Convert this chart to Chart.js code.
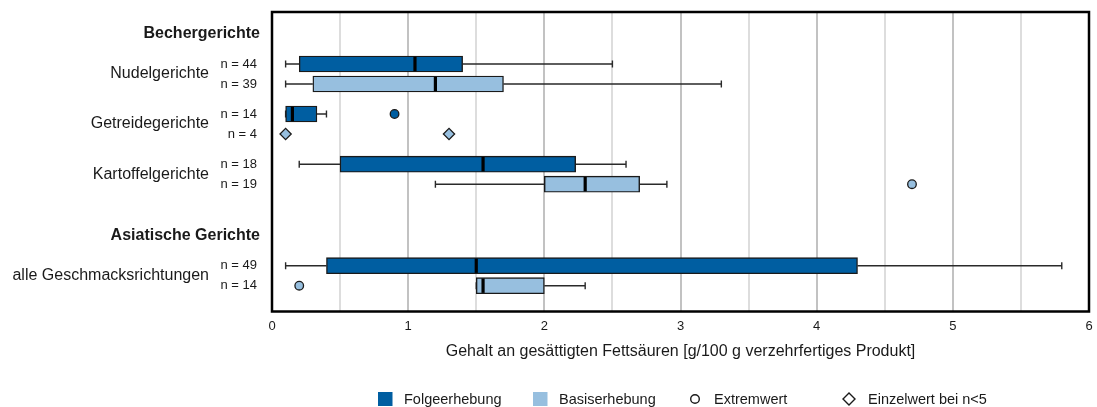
<!DOCTYPE html>
<html>
<head>
<meta charset="utf-8">
<script src="https://cdn.jsdelivr.net/npm/chart.js@4.4.1/dist/chart.umd.min.js"></script>
<style>
  html, body { margin: 0; padding: 0; background: #ffffff; }
  #wrap { width: 1097px; height: 407px; }
</style>
</head>
<body>
<div id="wrap"><canvas id="chart" width="1097" height="407"></canvas></div>
<script>
// ---- Daten ----
const groupTitles = ['Bechergerichte', 'Asiatische Gerichte'];
const products = ['Nudelgerichte', 'Getreidegerichte', 'Kartoffelgerichte', 'alle Geschmacksrichtungen'];
const nFolge = [44, 14, 18, 49];
const nBasis = [39, 4, 19, 14];

// Folgeerhebung: Minimum, unteres Quartil, Median, oberes Quartil, Maximum (g/100 g)
const folgeMin    = [0.1, 0.1,  0.2,  0.1];
const folgeQ1     = [0.2, 0.1,  0.5,  0.4];
const folgeMedian = [1.05, 0.15, 1.55, 1.5];
const folgeQ3     = [1.4, 0.33, 2.23, 4.3];
const folgeMax    = [2.5, 0.4,  2.6,  5.8];
const folgeExtreme = [[], [0.9], [], []];

// Basiserhebung (bei n<5 nur Einzelwerte)
const basisMin    = [0.1, null, 1.2, 1.5];
const basisQ1     = [0.3, null, 2.0, 1.5];
const basisMedian = [1.2, null, 2.3, 1.55];
const basisQ3     = [1.7, null, 2.7, 2.0];
const basisMax    = [3.3, null, 2.9, 2.3];
const basisExtreme = [[], [], [4.7], [0.2]];
const basisSingle  = [[], [0.1, 1.3], [], []];

const xTickLabels = ['0', '1', '2', '3', '4', '5', '6'];
const axisTitle = 'Gehalt an gesättigten Fettsäuren [g/100 g verzehrfertiges Produkt]';
const legendLabels = ['Folgeerhebung', 'Basiserhebung', 'Extremwert', 'Einzelwert bei n<5'];

// ---- Layout (Einheiten der y-Achse, 1 Einheit = 10 px) ----
const productCenter = [6.2, 11.2, 16.22, 26.37];
const groupTitlePos = [2.13, 22.4];
const pairOffset = 1.0;
const yMax = 29.95;

const colFolge = '#005ea1';
const colBasis = '#97bfdf';
const colLine = '#1a1a1a';
const colText = '#1a1a1a';
const fontFamily = '"Liberation Sans", Arial, sans-serif';

const series = [
  { label: legendLabels[0], color: colFolge, offset: -pairOffset,
    min: folgeMin, q1: folgeQ1, med: folgeMedian, q3: folgeQ3, max: folgeMax },
  { label: legendLabels[1], color: colBasis, offset: pairOffset,
    min: basisMin, q1: basisQ1, med: basisMedian, q3: basisQ3, max: basisMax }
];

function boxData(s) {
  const out = [];
  products.forEach((p, i) => {
    if (s.q1[i] != null) out.push({ y: productCenter[i] + s.offset, x: [s.q1[i], s.q3[i]] });
  });
  return out;
}
function pointData(values, offset) {
  const out = [];
  values.forEach((list, i) => list.forEach(v => out.push({ x: v, y: productCenter[i] + offset })));
  return out;
}

// Stichprobengrößen je Zeile
const nTicks = [];
products.forEach((p, i) => {
  nTicks.push({ value: productCenter[i] - pairOffset, text: 'n = ' + nFolge[i] });
  nTicks.push({ value: productCenter[i] + pairOffset, text: 'n = ' + nBasis[i] });
});

// Whisker, Mediane, Rahmen, Gruppentitel und Legende
const boxPlotPlugin = {
  id: 'boxPlotParts',
  beforeDatasetsDraw(chart) {
    const { ctx, scales: { x, y } } = chart;
    ctx.save();
    ctx.strokeStyle = '#2a2a2a';
    ctx.lineWidth = 1.4;
    series.forEach(s => {
      products.forEach((p, i) => {
        if (s.min[i] == null) return;
        const py = y.getPixelForValue(productCenter[i] + s.offset);
        const xMin = x.getPixelForValue(s.min[i]);
        const xQ1 = x.getPixelForValue(s.q1[i]);
        const xQ3 = x.getPixelForValue(s.q3[i]);
        const xMax = x.getPixelForValue(s.max[i]);
        ctx.beginPath();
        ctx.moveTo(xMin, py); ctx.lineTo(xQ1, py);
        ctx.moveTo(xQ3, py); ctx.lineTo(xMax, py);
        ctx.moveTo(xMin, py - 3.5); ctx.lineTo(xMin, py + 3.5);
        ctx.moveTo(xMax, py - 3.5); ctx.lineTo(xMax, py + 3.5);
        ctx.stroke();
      });
    });
    ctx.restore();
  },
  afterDatasetsDraw(chart) {
    const { ctx, chartArea, scales: { x, y } } = chart;
    ctx.save();
    ctx.strokeStyle = '#000000';
    ctx.lineWidth = 3.2;
    series.forEach(s => {
      products.forEach((p, i) => {
        if (s.med[i] == null) return;
        const py = y.getPixelForValue(productCenter[i] + s.offset);
        const px = x.getPixelForValue(s.med[i]);
        ctx.beginPath();
        ctx.moveTo(px, py - 7.2); ctx.lineTo(px, py + 7.2);
        ctx.stroke();
      });
    });
    ctx.lineWidth = 2.5;
    ctx.strokeRect(chartArea.left, chartArea.top, chartArea.right - chartArea.left, chartArea.bottom - chartArea.top);
    ctx.restore();
  },
  afterDraw(chart) {
    const { ctx, chartArea, scales: { y } } = chart;
    ctx.save();
    ctx.fillStyle = colText;
    ctx.textBaseline = 'middle';

    // Gruppentitel
    ctx.font = 'bold 16px ' + fontFamily;
    ctx.textAlign = 'right';
    groupTitles.forEach((t, g) => ctx.fillText(t, chartArea.left - 12, y.getPixelForValue(groupTitlePos[g])));

    // Legende
    const cy = 399;
    const items = [
      { sx: 385, tx: 404, kind: 'square', fill: colFolge },
      { sx: 540, tx: 559, kind: 'square', fill: colBasis },
      { sx: 695, tx: 714, kind: 'circle' },
      { sx: 849, tx: 868, kind: 'diamond' }
    ];
    items.forEach((it, k) => {
      ctx.beginPath();
      if (it.kind === 'square') {
        ctx.fillStyle = it.fill;
        ctx.fillRect(it.sx - 7, cy - 7, 14.5, 14);
      } else if (it.kind === 'circle') {
        ctx.arc(it.sx, cy, 4.3, 0, Math.PI * 2);
        ctx.fillStyle = '#ffffff'; ctx.fill();
        ctx.lineWidth = 1.4; ctx.strokeStyle = colLine; ctx.stroke();
      } else {
        ctx.moveTo(it.sx - 6, cy); ctx.lineTo(it.sx, cy - 6);
        ctx.lineTo(it.sx + 6, cy); ctx.lineTo(it.sx, cy + 6); ctx.closePath();
        ctx.fillStyle = '#ffffff'; ctx.fill();
        ctx.lineWidth = 1.4; ctx.strokeStyle = colLine; ctx.stroke();
      }
      ctx.fillStyle = colText;
      ctx.font = '14.5px ' + fontFamily;
      ctx.textAlign = 'left';
      ctx.fillText(legendLabels[k], it.tx, cy + 0.5);
    });
    ctx.restore();
  }
};

const datasets = series.map(s => ({
  type: 'bar',
  label: s.label,
  data: boxData(s),
  backgroundColor: s.color,
  borderColor: colLine,
  borderWidth: 1.4,
  borderSkipped: false,
  barThickness: 16,
  grouped: false,
  xAxisID: 'x',
  yAxisID: 'y'
}));
datasets.push({
  type: 'scatter', label: legendLabels[2], data: pointData(folgeExtreme, -pairOffset),
  pointStyle: 'circle', radius: 4.3, backgroundColor: colFolge, borderColor: colLine, borderWidth: 1.3,
  xAxisID: 'x', yAxisID: 'y'
});
datasets.push({
  type: 'scatter', label: legendLabels[2], data: pointData(basisExtreme, pairOffset),
  pointStyle: 'circle', radius: 4.3, backgroundColor: colBasis, borderColor: colLine, borderWidth: 1.3,
  xAxisID: 'x', yAxisID: 'y'
});
datasets.push({
  type: 'scatter', label: legendLabels[3], data: pointData(basisSingle, pairOffset),
  pointStyle: 'rectRot', radius: 5.6, backgroundColor: colBasis, borderColor: colLine, borderWidth: 1.3,
  xAxisID: 'x', yAxisID: 'y'
});

Chart.defaults.font.family = fontFamily;
Chart.defaults.color = colText;

function noEdgePadding(s) { s.paddingTop = 0; s.paddingBottom = 0; }

new Chart(document.getElementById('chart'), {
  type: 'bar',
  data: { datasets },
  options: {
    indexAxis: 'y',
    responsive: false,
    animation: false,
    events: [],
    layout: { padding: { top: 12, right: 8, bottom: 45.5, left: 0 } },
    plugins: { legend: { display: false }, tooltip: { enabled: false } },
    scales: {
      x: {
        type: 'linear', position: 'bottom', min: 0, max: 6, offset: false,
        ticks: {
          stepSize: 0.5, autoSkip: false, maxRotation: 0, padding: 7,
          color: colText, font: { size: 13 },
          callback: v => Number.isInteger(v) ? xTickLabels[v] : ''
        },
        grid: {
          drawTicks: false, lineWidth: 2, offset: false,
          color: ctx => (ctx.tick && Number.isInteger(ctx.tick.value)) ? '#c2c2c2' : '#dddddd'
        },
        border: { display: false },
        title: { display: true, text: axisTitle, color: colText, font: { size: 16 }, padding: 0 },
        afterFit: s => { s.height = 50; s.paddingLeft = 0; s.paddingRight = 0; }
      },
      y: {
        type: 'linear', position: 'left', weight: 0, reverse: true, min: 0, max: yMax, offset: false,
        afterBuildTicks: s => { s.ticks = nTicks.map(t => ({ value: t.value })); },
        ticks: {
          autoSkip: false, padding: 15, color: colText, font: { size: 13 },
          callback: (v, i) => nTicks[i].text
        },
        grid: { display: false, drawTicks: false, offset: false },
        border: { display: false },
        afterFit: s => { s.width = 60; noEdgePadding(s); }
      },
      yg: {
        type: 'linear', position: 'left', weight: 1, reverse: true, min: 0, max: yMax, offset: false,
        afterBuildTicks: s => { s.ticks = productCenter.map(v => ({ value: v })); },
        ticks: {
          autoSkip: false, padding: 3, color: colText, font: { size: 16 },
          callback: (v, i) => products[i]
        },
        grid: { display: false, drawTicks: false, offset: false },
        border: { display: false },
        afterFit: s => { s.width = 212; noEdgePadding(s); }
      }
    }
  },
  plugins: [boxPlotPlugin]
});
</script>
</body>
</html>
